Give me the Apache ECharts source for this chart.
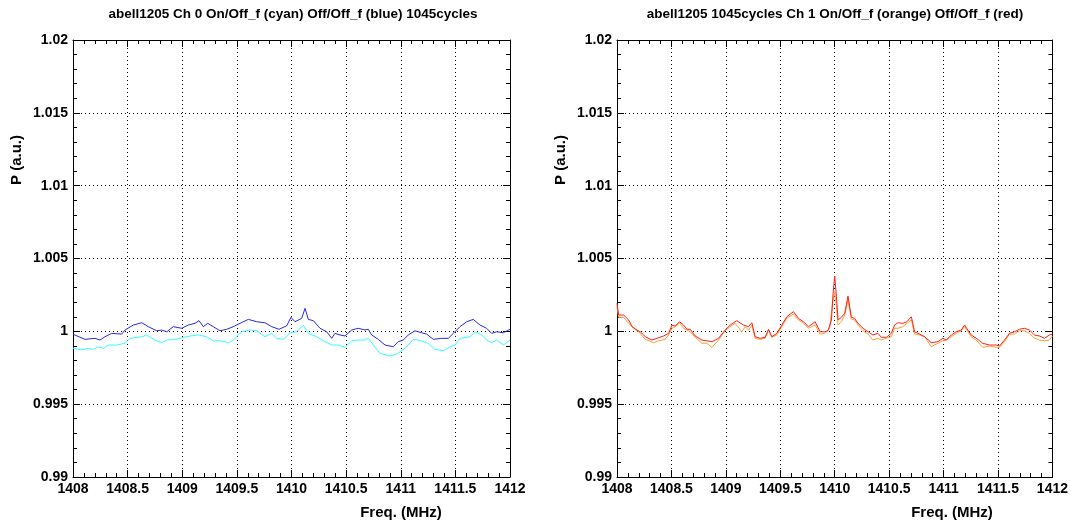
<!DOCTYPE html>
<html>
<head>
<meta charset="utf-8">
<script src="https://cdn.jsdelivr.net/npm/echarts@6/dist/echarts.min.js"></script>
<style>
html,body{margin:0;padding:0;background:#fff;}
#chart{width:1071px;height:526px;}
</style>
</head>
<body>
<div id="chart"></div>
<script>
// ---- data ----
var titles = [
  'abell1205 Ch 0 On/Off_f (cyan) Off/Off_f (blue) 1045cycles',
  'abell1205 1045cycles Ch 1 On/Off_f (orange) Off/Off_f (red)'
];
var xName = 'Freq. (MHz)';
var yName = 'P (a.u.)';
var xTicks = [1408, 1408.5, 1409, 1409.5, 1410, 1410.5, 1411, 1411.5, 1412];
var xTickLabels = ['1408', '1408.5', '1409', '1409.5', '1410', '1410.5', '1411', '1411.5', '1412'];
var yTicks = [0.99, 0.995, 1, 1.005, 1.01, 1.015, 1.02];
var yTickLabels = ['0.99', '0.995', '1', '1.005', '1.01', '1.015', '1.02'];

// Ch 0 Off/Off_f (blue)
var ch0Blue = [[1408.000,0.99980],[1408.018,0.99975],[1408.110,0.99945],[1408.201,0.99952],[1408.247,0.99940],[1408.293,0.99963],[1408.354,0.99986],[1408.446,0.99981],[1408.476,1.00009],[1408.552,1.00043],[1408.629,1.00059],[1408.689,1.00032],[1408.766,1.00004],[1408.812,1.00009],[1408.858,0.99997],[1408.918,1.00032],[1408.995,1.00021],[1409.055,1.00043],[1409.117,1.00055],[1409.153,1.00073],[1409.193,1.00032],[1409.233,1.00055],[1409.284,1.00032],[1409.345,1.00004],[1409.407,1.00014],[1409.467,1.00032],[1409.529,1.00055],[1409.605,1.00082],[1409.681,1.00066],[1409.757,1.00059],[1409.819,1.00032],[1409.886,1.00014],[1409.956,1.00038],[1409.995,1.00096],[1410.032,1.00066],[1410.093,1.00089],[1410.124,1.00158],[1410.154,1.00082],[1410.200,1.00073],[1410.261,1.00021],[1410.322,0.99997],[1410.368,0.99952],[1410.398,0.99986],[1410.444,0.99975],[1410.490,0.99968],[1410.551,1.00009],[1410.611,1.00021],[1410.673,1.00009],[1410.703,1.00014],[1410.734,0.99975],[1410.794,0.99945],[1410.856,0.99906],[1410.932,0.99894],[1410.977,0.99929],[1411.023,0.99940],[1411.069,0.99975],[1411.130,1.00004],[1411.192,0.99990],[1411.237,0.99981],[1411.298,0.99945],[1411.375,0.99952],[1411.435,0.99952],[1411.481,0.99986],[1411.542,1.00032],[1411.603,1.00066],[1411.664,1.00082],[1411.725,1.00043],[1411.786,1.00021],[1411.832,0.99986],[1411.878,0.99997],[1411.939,0.99990],[1412.000,1.00014]];
// Ch 0 On/Off_f (cyan)
var ch0Cyan = [[1408.000,0.99885],[1408.018,0.99883],[1408.079,0.99872],[1408.140,0.99883],[1408.186,0.99876],[1408.232,0.99894],[1408.278,0.99883],[1408.324,0.99906],[1408.400,0.99906],[1408.476,0.99918],[1408.522,0.99952],[1408.629,0.99963],[1408.674,0.99975],[1408.750,0.99940],[1408.812,0.99922],[1408.858,0.99940],[1408.934,0.99945],[1408.995,0.99956],[1409.071,0.99968],[1409.147,0.99975],[1409.223,0.99963],[1409.284,0.99935],[1409.360,0.99935],[1409.422,0.99922],[1409.467,0.99940],[1409.544,0.99997],[1409.620,1.00009],[1409.681,1.00004],[1409.757,0.99963],[1409.819,0.99986],[1409.865,0.99952],[1409.926,0.99945],[1409.987,0.99990],[1410.047,0.99997],[1410.108,1.00043],[1410.154,0.99986],[1410.230,0.99963],[1410.307,0.99929],[1410.368,0.99906],[1410.428,0.99906],[1410.490,0.99890],[1410.551,0.99935],[1410.611,0.99940],[1410.673,0.99940],[1410.703,0.99952],[1410.749,0.99906],[1410.810,0.99849],[1410.902,0.99830],[1410.963,0.99844],[1411.039,0.99883],[1411.115,0.99945],[1411.192,0.99935],[1411.252,0.99918],[1411.313,0.99876],[1411.389,0.99867],[1411.451,0.99894],[1411.497,0.99906],[1411.542,0.99952],[1411.634,0.99963],[1411.680,0.99997],[1411.741,0.99975],[1411.786,0.99940],[1411.832,0.99922],[1411.878,0.99940],[1411.939,0.99906],[1412.000,0.99940]];
// Ch 1 On/Off_f (orange)
var ch1Orange = [[1408.000,1.00169],[1408.015,1.00096],[1408.061,1.00096],[1408.107,1.00055],[1408.153,1.00021],[1408.199,0.99997],[1408.260,0.99945],[1408.337,0.99922],[1408.383,0.99935],[1408.443,0.99945],[1408.474,0.99975],[1408.505,1.00021],[1408.535,1.00032],[1408.575,1.00059],[1408.612,1.00021],[1408.642,1.00009],[1408.673,0.99997],[1408.718,0.99959],[1408.780,0.99918],[1408.826,0.99918],[1408.872,0.99890],[1408.933,0.99940],[1408.994,1.00004],[1409.039,1.00032],[1409.086,1.00055],[1409.147,0.99997],[1409.177,1.00032],[1409.208,1.00009],[1409.239,1.00043],[1409.269,0.99952],[1409.315,0.99945],[1409.361,0.99952],[1409.392,1.00009],[1409.422,0.99959],[1409.468,0.99975],[1409.514,1.00032],[1409.560,1.00089],[1409.621,1.00119],[1409.667,1.00078],[1409.713,1.00055],[1409.759,1.00021],[1409.820,1.00043],[1409.866,0.99981],[1409.908,0.99986],[1409.954,1.00021],[1409.979,1.00192],[1410.000,1.00272],[1410.016,1.00169],[1410.031,1.00043],[1410.061,1.00066],[1410.092,1.00112],[1410.122,1.00215],[1410.153,1.00084],[1410.183,1.00078],[1410.214,1.00043],[1410.260,1.00004],[1410.306,0.99981],[1410.351,0.99940],[1410.397,0.99952],[1410.428,0.99940],[1410.474,0.99952],[1410.520,0.99963],[1410.550,1.00021],[1410.581,1.00021],[1410.627,1.00032],[1410.663,1.00055],[1410.704,1.00078],[1410.734,0.99981],[1410.780,0.99975],[1410.826,0.99963],[1410.887,0.99894],[1410.948,0.99918],[1410.994,0.99935],[1411.025,0.99940],[1411.071,0.99963],[1411.116,0.99986],[1411.162,1.00004],[1411.193,1.00032],[1411.223,0.99997],[1411.254,0.99963],[1411.300,0.99940],[1411.360,0.99890],[1411.422,0.99899],[1411.483,0.99890],[1411.514,0.99890],[1411.560,0.99929],[1411.605,0.99981],[1411.651,0.99981],[1411.697,1.00004],[1411.743,1.00004],[1411.789,0.99986],[1411.835,0.99952],[1411.881,0.99940],[1411.927,0.99935],[1411.972,0.99940],[1412.000,0.99968]];
// Ch 1 Off/Off_f (red)
var ch1Red = [[1408.000,1.00192],[1408.015,1.00112],[1408.061,1.00112],[1408.107,1.00078],[1408.138,1.00032],[1408.183,1.00009],[1408.214,0.99997],[1408.260,0.99963],[1408.321,0.99940],[1408.367,0.99952],[1408.428,0.99968],[1408.474,0.99986],[1408.505,1.00043],[1408.535,1.00036],[1408.575,1.00066],[1408.612,1.00043],[1408.642,1.00014],[1408.673,1.00014],[1408.718,0.99968],[1408.780,0.99940],[1408.826,0.99935],[1408.872,0.99929],[1408.933,0.99952],[1408.994,1.00009],[1409.039,1.00043],[1409.101,1.00073],[1409.162,1.00043],[1409.208,1.00032],[1409.239,1.00059],[1409.269,0.99963],[1409.315,0.99952],[1409.361,0.99959],[1409.392,1.00014],[1409.422,0.99963],[1409.468,0.99986],[1409.514,1.00043],[1409.560,1.00100],[1409.621,1.00135],[1409.667,1.00089],[1409.713,1.00066],[1409.759,1.00032],[1409.820,1.00066],[1409.866,0.99997],[1409.908,0.99997],[1409.939,1.00004],[1409.970,1.00078],[1409.985,1.00261],[1410.000,1.00380],[1410.016,1.00238],[1410.031,1.00078],[1410.061,1.00096],[1410.092,1.00124],[1410.122,1.00242],[1410.153,1.00096],[1410.183,1.00089],[1410.214,1.00055],[1410.260,1.00021],[1410.306,0.99997],[1410.351,0.99975],[1410.397,0.99986],[1410.428,0.99959],[1410.474,0.99959],[1410.520,0.99986],[1410.550,1.00043],[1410.581,1.00059],[1410.627,1.00055],[1410.663,1.00066],[1410.704,1.00100],[1410.734,0.99997],[1410.780,0.99981],[1410.826,0.99963],[1410.887,0.99922],[1410.948,0.99929],[1410.994,0.99952],[1411.025,0.99940],[1411.071,0.99975],[1411.116,0.99997],[1411.162,1.00009],[1411.193,1.00043],[1411.223,1.00009],[1411.254,0.99975],[1411.300,0.99952],[1411.360,0.99918],[1411.422,0.99906],[1411.483,0.99906],[1411.514,0.99899],[1411.560,0.99940],[1411.605,0.99986],[1411.651,0.99997],[1411.697,1.00014],[1411.743,1.00021],[1411.789,1.00009],[1411.835,0.99975],[1411.881,0.99968],[1411.927,0.99952],[1411.972,0.99975],[1412.000,0.99981]];

// ---- chart ----
var FONT = '"Liberation Sans", Arial, Helvetica, sans-serif';
function lookup(ticks, labels, v) {
  for (var i = 0; i < ticks.length; i++) if (Math.abs(ticks[i] - v) < 1e-7) return labels[i];
  return '';
}
var xMin = xTicks[0], xMax = xTicks[xTicks.length - 1], xStep = xTicks[1] - xTicks[0];
var yMin = yTicks[0], yMax = yTicks[yTicks.length - 1], yStep = yTicks[1] - yTicks[0];

function xAxisDef(g, pos) {
  var main = pos === 'bottom';
  return {
    gridIndex: g, type: 'value', position: pos, min: xMin, max: xMax, interval: xStep,
    axisLine: { show: true, onZero: false, lineStyle: { color: '#000', width: 1 } },
    axisTick: { show: true, inside: true, length: 7, lineStyle: { color: '#000', width: 1 } },
    minorTick: { show: true, splitNumber: 5, length: 4, lineStyle: { color: '#000', width: 1 } },
    splitLine: { show: main, lineStyle: { color: '#000', width: 1, type: [1, 3] } },
    axisLabel: { show: main, margin: 5, color: '#000', fontFamily: FONT, fontWeight: 'bold', fontSize: 14,
      formatter: function (v) { return lookup(xTicks, xTickLabels, v); } }
  };
}
function yAxisDef(g, pos) {
  var main = pos === 'left';
  return {
    gridIndex: g, type: 'value', position: pos, min: yMin, max: yMax, interval: yStep,
    axisLine: { show: true, onZero: false, lineStyle: { color: '#000', width: 1 } },
    axisTick: { show: true, inside: true, length: 7, lineStyle: { color: '#000', width: 1 } },
    minorTick: { show: true, splitNumber: 5, length: 4, lineStyle: { color: '#000', width: 1 } },
    splitLine: { show: main, lineStyle: { color: '#000', width: 1, type: [1, 3] } },
    axisLabel: { show: main, margin: 5, color: '#000', fontFamily: FONT, fontWeight: 'bold', fontSize: 14,
      formatter: function (v) { return lookup(yTicks, yTickLabels, v); } }
  };
}
function lineSeries(name, data, color, axisIdx) {
  return { name: name, type: 'line', data: data, xAxisIndex: axisIdx, yAxisIndex: axisIdx,
    showSymbol: false, symbol: 'none', smooth: false, silent: true,
    lineStyle: { color: color, width: 1 } };
}
function txt(x, y, s, size, rot) {
  return { type: 'text', x: x, y: y, rotation: rot || 0, silent: true,
    style: { text: s, fill: '#000', font: 'bold ' + size + 'px ' + FONT, align: 'center', verticalAlign: 'middle' } };
}

var chart = echarts.init(document.getElementById('chart'), null, { renderer: 'canvas' });
chart.setOption({
  animation: false,
  backgroundColor: '#fff',
  grid: [
    { left: 73, top: 40, width: 437, height: 437 },
    { left: 617, top: 40, width: 436, height: 437 }
  ],
  xAxis: [xAxisDef(0, 'bottom'), xAxisDef(0, 'top'), xAxisDef(1, 'bottom'), xAxisDef(1, 'top')],
  yAxis: [yAxisDef(0, 'left'), yAxisDef(0, 'right'), yAxisDef(1, 'left'), yAxisDef(1, 'right')],
  series: [
    lineSeries('On/Off_f (cyan)', ch0Cyan, '#33ffff', 0),
    lineSeries('Off/Off_f (blue)', ch0Blue, '#2828e8', 0),
    lineSeries('On/Off_f (orange)', ch1Orange, '#ffa030', 2),
    lineSeries('Off/Off_f (red)', ch1Red, '#ff1e1e', 2)
  ],
  graphic: [
    txt(293, 14, titles[0], 13.5),
    txt(835, 14, titles[1], 13.5),
    txt(401, 513, xName, 15),
    txt(952, 513, xName, 15),
    txt(17, 160, yName, 15, Math.PI / 2),
    txt(561, 160, yName, 15, Math.PI / 2)
  ]
});
</script>
</body>
</html>
